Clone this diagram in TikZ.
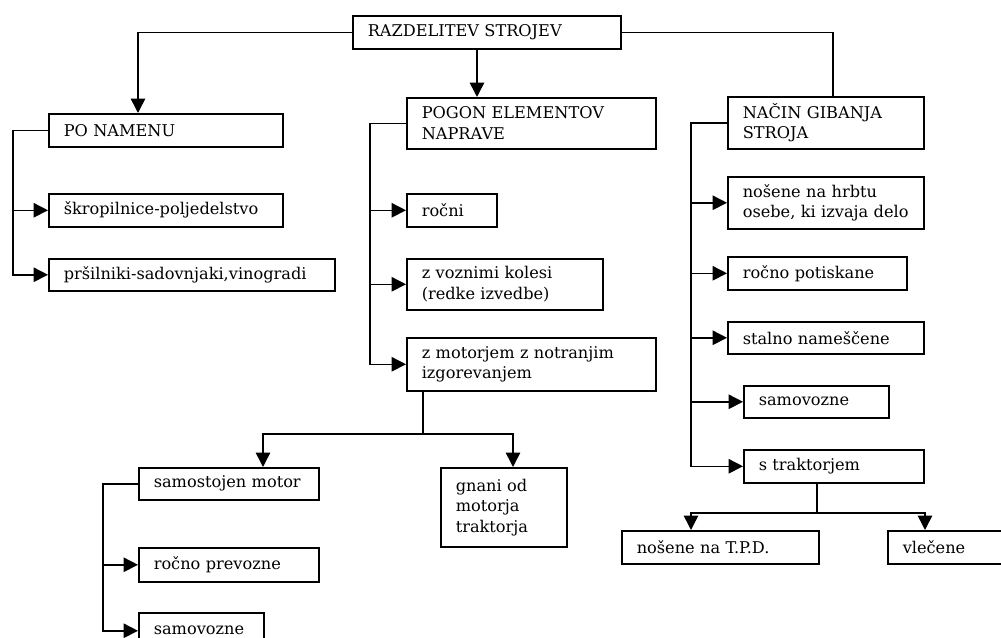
\documentclass[tikz,border=0pt]{standalone}
\usepackage{fontspec}
\setmainfont{DejaVu Serif}
\usetikzlibrary{arrows.meta}

\tikzset{
    okvir/.style={draw, line width=1.1pt, rectangle, anchor=north west, inner xsep=0.375cm, inner ysep=0pt,
        align=left, font=\fontsize{11.5}{14.5}\selectfont},
    veza/.style={line width=1.1pt},
    strelica/.style={veza, -{Triangle[length=0.36cm,width=0.36cm]}}
}

\begin{document}
\begin{tikzpicture}[x=0.025cm, y=-0.025cm]

\def\enota{0.7113}

\newcommand\okvir[6]
{
    \pgfmathsetmacro\sirina{(#4-#2)*\enota - 21.34}
    \node [okvir, text width=\sirina pt, minimum height={(#5-#3)*0.025cm}] (#1) at (#2,#3) {#6};
}

\path [use as bounding box, clip] (0,0) rectangle (1001,638);

\okvir{koren}{352}{15}{620}{48}{RAZDELITEV STROJEV}

\okvir{namen}{48}{113}{282}{146}{PO NAMENU}
\okvir{skr}{48}{193}{282}{226}{škropilnice-poljedelstvo}
\okvir{prs}{48}{258}{334}{290}{pršilniki-sadovnjaki,vinogradi}

\okvir{pogon}{406}{97}{655}{148}{POGON ELEMENTOV\\NAPRAVE}
\okvir{rocni}{406}{193}{496}{226}{ročni}
\okvir{vozni}{406}{258}{602}{309}{z voznimi kolesi\\(redke izvedbe)}
\okvir{motor}{406}{337}{655}{390}{z motorjem z notranjim\\izgorevanjem}

\okvir{samost}{138}{467}{318}{499}{samostojen motor}
\okvir{prevoz}{138}{547}{318}{581}{ročno prevozne}
\okvir{samovozA}{138}{612}{263}{648}{samovozne}
\okvir{gnani}{440}{467}{566}{546}{gnani od\\motorja\\traktorja}

\okvir{nacin}{727}{96}{923}{148}{NAČIN GIBANJA\\STROJA}
\okvir{hrbet}{727}{176}{923}{228}{nošene na hrbtu\\osebe, ki izvaja delo}
\okvir{potisk}{727}{256}{906}{289}{ročno potiskane}
\okvir{stalno}{727}{321}{923}{353}{stalno nameščene}
\okvir{samovozB}{743}{385}{888}{417}{samovozne}
\okvir{traktor}{743}{449}{923}{482}{s traktorjem}
\okvir{tpd}{621}{530}{818}{563}{nošene na T.P.D.}
\okvir{vlec}{887}{530}{1030}{563}{vlečene}

\draw [strelica] (koren.west) -| (138,0 |- namen.north);
\draw [strelica] (477,0 |- koren.south) -- (477,0 |- pogon.north);
\draw [veza] (koren.east) -| (833,0 |- nacin.north);

\draw [strelica] (namen.west) -| (13,0 |- prs.west) -- (prs.west);
\draw [strelica] (13,0 |- skr.west) -- (skr.west);

\draw [strelica] (pogon.west) -| (370,0 |- motor.west) -- (motor.west);
\draw [strelica] (370,0 |- rocni.west) -- (rocni.west);
\draw [strelica] (370,0 |- vozni.west) -- (vozni.west);

\coordinate (razcepA) at (423,434);
\draw [veza] (423,0 |- motor.south) -- (razcepA);
\draw [strelica] (razcepA) -| (263,0 |- samost.north);
\draw [strelica] (razcepA) -| (513,0 |- gnani.north);

\draw [strelica] (samost.west) -| (103,0 |- samovozA.west) -- (samovozA.west);
\draw [strelica] (103,0 |- prevoz.west) -- (prevoz.west);

\draw [strelica] (nacin.west) -| (691,0 |- traktor.west) -- (traktor.west);
\draw [strelica] (691,0 |- hrbet.west) -- (hrbet.west);
\draw [strelica] (691,0 |- potisk.west) -- (potisk.west);
\draw [strelica] (691,0 |- stalno.west) -- (stalno.west);
\draw [strelica] (691,0 |- samovozB.west) -- (samovozB.west);

\coordinate (razcepB) at (817,513);
\draw [veza] (817,0 |- traktor.south) -- (razcepB);
\draw [strelica] (razcepB) -| (691,0 |- tpd.north);
\draw [strelica] (razcepB) -| (925,0 |- vlec.north);

\end{tikzpicture}
\end{document}
